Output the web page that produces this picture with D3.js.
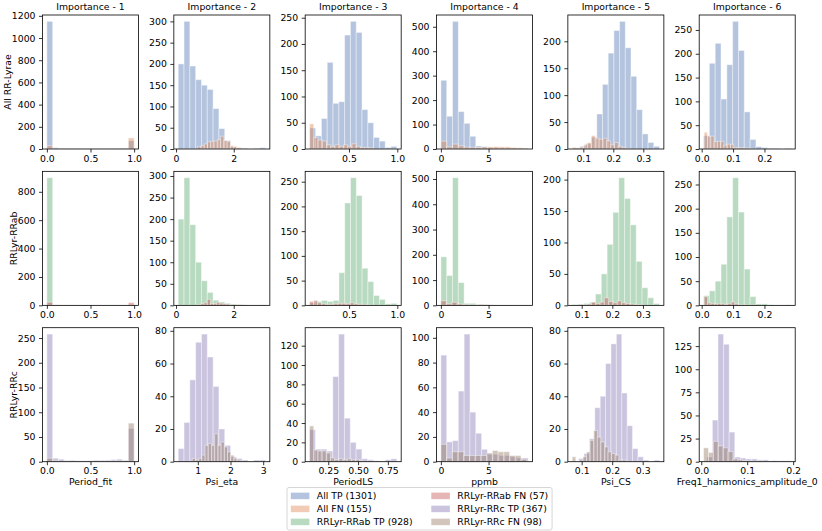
<!DOCTYPE html>
<html><head><meta charset="utf-8">
<script src="https://cdn.jsdelivr.net/npm/d3@7"></script>
<style>body{margin:0;background:#fff}</style>
</head><body><svg id="c" width="822" height="531"></svg>
<script>
// ---------------- data ----------------
const rowLabels = ["All RR-Lyrae", "RRLyr-RRab", "RRLyr-RRc"];
const titles = ["Importance - 1", "Importance - 2", "Importance - 3", "Importance - 4", "Importance - 5", "Importance - 6"];
const features = ["Period_fit", "Psi_eta", "PeriodLS", "ppmb", "Psi_CS", "Freq1_harmonics_amplitude_0"];
const legendLabels = ["All TP (1301)", "All FN (155)", "RRLyr-RRab TP (928)", "RRLyr-RRab FN (57)", "RRLyr-RRc TP (367)", "RRLyr-RRc FN (98)"];

// histogram counts (15 bins each) and the [min, max] range the bins span
const allTP = [
  [1150, 12, 6, 3, 5, 3, 3, 3, 4, 4, 4, 5, 6, 5, 75],
  [200, 300, 195, 163, 150, 140, 95, 48, 20, 5, 3, 1, 0, 1, 3],
  [40, 25, 58, 165, 87, 90, 217, 243, 222, 75, 50, 22, 15, 3, 5],
  [281, 134, 522, 153, 105, 52, 12, 10, 6, 5, 4, 3, 3, 2, 2],
  [2, 5, 10, 22, 65, 120, 178, 220, 237, 188, 135, 73, 28, 12, 5],
  [28, 180, 222, 105, 177, 268, 207, 78, 20, 5, 3, 1, 1, 0, 1]
];
const allTPRange = [[0, 1], [0.075, 3.1], [0.095, 0.995], [0, 9.15], [0.069, 0.354], [0.006, 0.284]];
const allFN = [
  [30, 3, 1, 3, 3, 3, 2, 2, 1, 2, 1, 2, 2, 4, 100],
  [6, 8, 12, 17, 18, 19, 22, 30, 20, 18, 8, 6, 3, 1, 2],
  [48, 22, 17, 15, 8, 5, 8, 5, 8, 5, 10, 5, 3, 3, 2],
  [32, 9, 20, 13, 8, 7, 6, 8, 9, 10, 9, 9, 6, 5, 3],
  [3, 2, 3, 8, 12, 25, 20, 18, 20, 15, 8, 12, 5, 3, 1],
  [35, 27, 27, 16, 16, 16, 8, 10, 10, 3, 3, 3, 2, 2, 1]
];
const allFNRange = [[0, 1], [0.75, 2.45], [0.092, 0.75], [0, 9.15], [0.063, 0.255], [0.008, 0.165]];

const rrabTP = [
  [899, 3, 1, 1, 1, 0, 1, 1, 1, 1, 1, 1, 1, 2, 5],
  [200, 296, 187, 100, 57, 30, 12, 8, 5, 3, 2, 1, 0, 0, 1],
  [5, 8, 10, 8, 10, 66, 207, 258, 222, 75, 48, 20, 12, 3, 4],
  [192, 118, 505, 90, 8, 8, 4, 3, 2, 1, 1, 1, 0, 0, 1],
  [1, 2, 3, 5, 18, 50, 97, 148, 203, 170, 128, 70, 28, 12, 3],
  [20, 30, 50, 85, 183, 264, 193, 75, 18, 3, 3, 1, 0, 0, 1]
];
const rrabTPRange = [[0, 1], [0.075, 3.1], [0.095, 0.995], [0, 9.15], [0.069, 0.354], [0.006, 0.284]];
const rrabFN = [
  [22, 2, 1, 1, 1, 2, 2, 1, 0, 1, 0, 1, 1, 2, 20],
  [2, 4, 6, 14, 4, 4, 7, 5, 4, 3, 1, 1, 1, 0, 1],
  [8, 10, 5, 3, 2, 2, 3, 4, 4, 3, 5, 3, 2, 2, 1],
  [18, 6, 12, 5, 3, 2, 1, 3, 2, 1, 1, 1, 1, 0, 1],
  [1, 1, 2, 5, 3, 5, 12, 6, 4, 7, 4, 3, 2, 1, 1],
  [18, 5, 4, 3, 4, 3, 2, 4, 7, 3, 1, 1, 1, 0, 1]
];
const rrabFNRange = [[0, 1], [0.75, 2.4], [0.09, 0.72], [0, 8.5], [0.09, 0.3], [0.008, 0.17]];

const rrcTP = [
  [258, 7, 5, 2, 3, 2, 2, 2, 3, 3, 3, 4, 5, 3, 67],
  [8, 24, 50, 73, 78, 64, 46, 20, 10, 3, 2, 1, 0, 1, 1],
  [33, 13, 13, 11, 88, 132, 45, 20, 13, 3, 2, 1, 0, 2, 3],
  [86, 16, 17, 57, 103, 40, 23, 10, 6, 6, 5, 5, 4, 3, 3],
  [2, 5, 14, 33, 40, 60, 72, 78, 42, 22, 8, 3, 1, 0, 1],
  [5, 45, 138, 127, 32, 5, 4, 3, 3, 2, 2, 1, 1, 1, 1]
];
const rrcTPRange = [[0, 1], [0.4, 3.07], [0.093, 0.825], [0, 9.15], [0.09, 0.355], [0.012, 0.195]];
const rrcFN = [
  [7, 2, 0, 2, 1, 1, 0, 1, 1, 1, 0, 1, 1, 2, 78],
  [2, 1, 2, 4, 10, 11, 10, 17, 10, 12, 9, 6, 4, 2, 1],
  [37, 12, 11, 11, 9, 4, 2, 3, 2, 3, 2, 2, 1, 0, 1],
  [14, 3, 8, 8, 5, 5, 5, 5, 7, 9, 8, 8, 5, 5, 2],
  [3, 0, 1, 3, 6, 13, 19, 15, 12, 9, 6, 5, 4, 1, 1],
  [15, 10, 22, 17, 15, 11, 3, 2, 1, 1, 0, 1, 0, 0, 1]
];
const rrcFNRange = [[0, 1], [0.83, 2.3], [0.093, 0.62], [0, 9.0], [0.069, 0.245], [0.005, 0.165]];

// tick values / labels
const xTicksTop = [[0, 0.5, 1], [0, 2], [0.5, 1], [0, 5], [0.1, 0.2, 0.3], [0, 0.1, 0.2]];
const xLabelsTop = [["0.0", "0.5", "1.0"], ["0", "2"], ["0.5", "1.0"], ["0", "5"], ["0.1", "0.2", "0.3"], ["0.0", "0.1", "0.2"]];
const xTicksRRc = [[0, 0.5, 1], [1, 2, 3], [0.25, 0.5, 0.75], [0, 5], [0.1, 0.2, 0.3], [0, 0.1, 0.2]];
const xLabelsRRc = [["0.0", "0.5", "1.0"], ["1", "2", "3"], ["0.25", "0.50", "0.75"], ["0", "5"], ["0.1", "0.2", "0.3"], ["0.0", "0.1", "0.2"]];
const yStepAll = [200, 50, 50, 100, 50, 50];
const yStepRRab = [200, 50, 50, 100, 50, 50];
const yStepRRc = [50, 20, 20, 20, 20, 25];

// ---------------- style ----------------
const palette = ["#4c72b0", "#dd8452", "#55a868", "#c44e52", "#8172b3", "#937860"];
const ALPHA = 0.42;
const FS = 9.3;
const FONT = "'DejaVu Sans', sans-serif";
const W = 96, H = 134;
const lefts = d3.range(6).map(i => 42.5 + i * 131.34);
const tops = d3.range(3).map(i => 15 + i * 156.35);

const rows = [
  {tp: allTP, tpR: allTPRange, fn: allFN, fnR: allFNRange, cTP: palette[0], cFN: palette[1], xt: xTicksTop, xl: xLabelsTop, ys: yStepAll},
  {tp: rrabTP, tpR: rrabTPRange, fn: rrabFN, fnR: rrabFNRange, cTP: palette[2], cFN: palette[3], xt: xTicksTop, xl: xLabelsTop, ys: yStepRRab},
  {tp: rrcTP, tpR: rrcTPRange, fn: rrcFN, fnR: rrcFNRange, cTP: palette[4], cFN: palette[5], xt: xTicksRRc, xl: xLabelsRRc, ys: yStepRRc}
];

const svg = d3.select("#c");
svg.append("rect").attr("width", 822).attr("height", 531).attr("fill", "#fff");

rows.forEach((row, r) => {
  for (let c = 0; c < 6; c++) {
    const L = lefts[c], T = tops[r];
    const tp = row.tp[c], fn = row.fn[c], tpR = row.tpR[c], fnR = row.fnR[c];
    const lo = Math.min(tpR[0], fnR[0]), hi = Math.max(tpR[1], fnR[1]), R = hi - lo;
    const x = d3.scaleLinear().domain([lo - 0.05 * R, hi + 0.05 * R]).range([L, L + W]);
    const maxC = d3.max(tp.concat(fn));
    const y = d3.scaleLinear().domain([0, maxC * 1.05]).range([T + H, T]);
    const g = svg.append("g");

    function hist(counts, range, color) {
      const n = counts.length, bw = (range[1] - range[0]) / n;
      const bins = counts.map((v, i) => ({x0: range[0] + i * bw, x1: range[0] + (i + 1) * bw, v})).filter(d => d.v > 0);
      g.append("g").selectAll("rect").data(bins).join("rect")
        .attr("x", d => x(d.x0)).attr("width", d => x(d.x1) - x(d.x0))
        .attr("y", d => y(d.v)).attr("height", d => y(0) - y(d.v))
        .attr("fill", color).attr("fill-opacity", ALPHA)
        .attr("stroke", "#fff").attr("stroke-opacity", ALPHA).attr("stroke-width", 1);
    }
    hist(tp, tpR, row.cTP);
    hist(fn, fnR, row.cFN);

    // axes
    const xa = g.append("g").attr("transform", `translate(0,${T + H})`)
      .call(d3.axisBottom(x).tickValues(row.xt[c]).tickFormat((d, i) => row.xl[c][i]).tickSize(3.5).tickPadding(2.5));
    const yTicks = d3.range(0, maxC * 1.05 + 1e-9, row.ys[c]);
    const ya = g.append("g").attr("transform", `translate(${L},0)`)
      .call(d3.axisLeft(y).tickValues(yTicks).tickFormat(d3.format("d")).tickSize(3.5).tickPadding(3.5));
    [xa, ya].forEach(a => {
      a.select(".domain").remove();
      a.attr("font-size", FS).attr("font-family", FONT);
      a.selectAll("line").attr("stroke", "#000").attr("stroke-width", 0.8);
      a.selectAll("text").attr("fill", "#000");
    });
    g.append("rect").attr("x", L).attr("y", T).attr("width", W).attr("height", H)
      .attr("fill", "none").attr("stroke", "#000").attr("stroke-width", 0.8);

    if (r === 0) {
      svg.append("text").attr("x", L + W / 2).attr("y", T - 5.5).attr("text-anchor", "middle")
        .attr("font-size", FS).attr("font-family", FONT).text(titles[c]);
    }
    if (r === 2) {
      svg.append("text").attr("x", L + W / 2).attr("y", T + H + 23.6).attr("text-anchor", "middle")
        .attr("font-size", FS).attr("font-family", FONT).text(features[c]);
    }
    if (c === 0) {
      let mw = 0;
      ya.selectAll("text").each(function () { mw = Math.max(mw, this.getComputedTextLength()); });
      const lx = L - 7 - mw - 0.5, ly = T + H / 2;
      svg.append("text").attr("transform", `translate(${lx},${ly}) rotate(-90)`).attr("text-anchor", "middle")
        .attr("font-size", FS).attr("font-family", FONT).text(rowLabels[r]);
    }
  }
});

// legend (two columns, filled column-wise)
const lg = svg.append("g");
const LX = 287, LY = 487.5, pad = 3.8, hl = 2 * FS, hh = 0.7 * FS, htp = 0.8 * FS, cs = 2 * FS, rowStep = 13;
const box = lg.append("rect");
const tmp = [];
legendLabels.forEach((lab, i) => {
  const t = lg.append("text").attr("font-size", FS).attr("font-family", FONT).text(lab);
  tmp.push(t);
});
const w0 = d3.max(tmp.slice(0, 3), t => t.node().getComputedTextLength());
const w1 = d3.max(tmp.slice(3), t => t.node().getComputedTextLength());
const col0x = LX + pad, col1x = col0x + hl + htp + w0 + cs;
legendLabels.forEach((lab, i) => {
  const col = Math.floor(i / 3), k = i % 3;
  const hx = col === 0 ? col0x : col1x;
  const cy = LY + 8.4 + k * rowStep;
  lg.append("rect").attr("x", hx).attr("y", cy - hh / 2).attr("width", hl).attr("height", hh)
    .attr("fill", palette[i]).attr("fill-opacity", ALPHA);
  tmp[i].attr("x", hx + hl + htp).attr("y", cy).attr("dy", "0.35em");
});
const boxW = (col1x + hl + htp + w1 + pad) - LX;
box.attr("x", LX).attr("y", LY).attr("width", boxW).attr("height", 42.5).attr("rx", 2)
  .attr("fill", "#fff").attr("fill-opacity", 0.8).attr("stroke", "#cccccc").attr("stroke-width", 0.8);
</script>
</body></html>
